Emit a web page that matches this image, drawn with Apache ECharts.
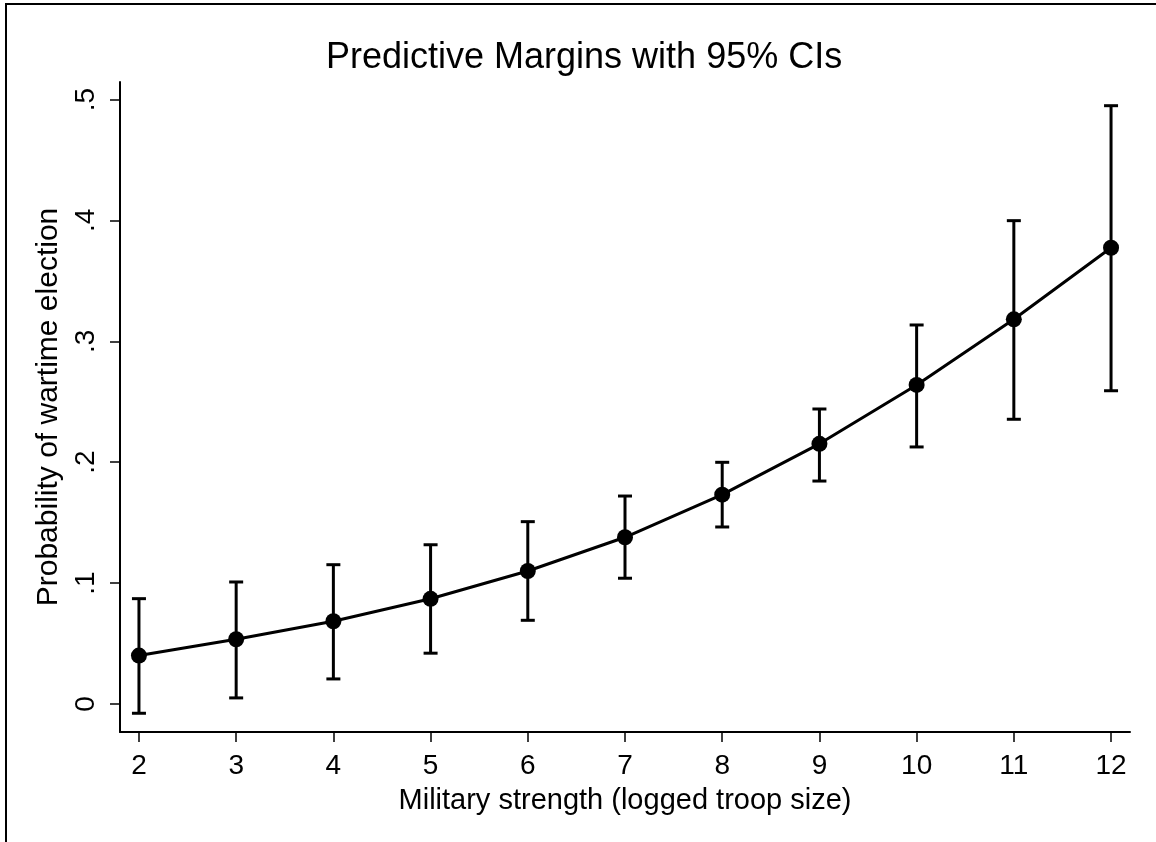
<!DOCTYPE html>
<html>
<head>
<meta charset="utf-8" />
<title>Predictive Margins</title>
<script src="https://cdn.jsdelivr.net/npm/echarts@6/dist/echarts.min.js"></script>
<style>
  html, body { margin: 0; padding: 0; background: #fff; }
  #chartmain { width: 1156px; height: 842px; }
</style>
</head>
<body>
<div id="chartmain"></div>
<script type="text/javascript">
  // troop size (logged) and the margins
  var troopSize = [2, 3, 4, 5, 6, 7, 8, 9, 10, 11, 12];
  var margin    = [0.040, 0.0535, 0.0684, 0.0870, 0.110, 0.1379, 0.1731, 0.2152, 0.2639, 0.3182, 0.3774];
  var ciLower   = [-0.0077, 0.0050, 0.0207, 0.0420, 0.0692, 0.1040, 0.1464, 0.1844, 0.2126, 0.2355, 0.2591];
  var ciUpper   = [0.0871, 0.1009, 0.1152, 0.1317, 0.1508, 0.1720, 0.1999, 0.2440, 0.3135, 0.3998, 0.4949];
  var yTicks    = [0, 0.1, 0.2, 0.3, 0.4, 0.5];
  var yTickText = ['0', '.1', '.2', '.3', '.4', '.5'];

  var font = 'Liberation Sans, Arial, sans-serif';

  var lineData = [];
  var barData = [];
  for (var i = 0; i < troopSize.length; i++) {
    lineData.push([troopSize[i], margin[i]]);
    barData.push([troopSize[i], ciLower[i], ciUpper[i]]);
  }

  // draws one CI bar with caps
  function renderCI(params, api) {
    var lo = api.coord([api.value(0), api.value(1)]);
    var hi = api.coord([api.value(0), api.value(2)]);
    var cap = 7;
    var st = { stroke: '#000', lineWidth: 3 };
    return {
      type: 'group',
      children: [
        { type: 'line', shape: { x1: lo[0], y1: lo[1], x2: hi[0], y2: hi[1] }, style: st },
        { type: 'line', shape: { x1: lo[0] - cap, y1: lo[1], x2: lo[0] + cap, y2: lo[1] }, style: st },
        { type: 'line', shape: { x1: hi[0] - cap, y1: hi[1], x2: hi[0] + cap, y2: hi[1] }, style: st }
      ]
    };
  }

  var myChart = echarts.init(document.getElementById('chartmain'));
  var option = {
    backgroundColor: '#fff',
    animation: false,
    title: {
      text: 'Predictive Margins with 95% CIs',
      left: 321,
      top: 35,
      textStyle: { fontFamily: font, fontSize: 36, fontWeight: 'normal', color: '#000' }
    },
    graphic: [
      {
        type: 'rect',
        shape: { x: 6, y: 4, width: 1300, height: 1000 },
        style: { fill: 'none', stroke: '#000', lineWidth: 2 },
        silent: true
      }
    ],
    grid: { left: 120, right: 26, top: 82, bottom: 110 },
    xAxis: {
      type: 'value',
      min: 1.805,
      max: 12.195,
      name: 'Military strength (logged troop size)',
      nameLocation: 'middle',
      nameGap: 54,
      nameTextStyle: { fontFamily: font, fontSize: 29, color: '#000' },
      axisLine: { show: true, onZero: false, lineStyle: { color: '#000', width: 2 } },
      axisTick: { show: true, length: 10, customValues: troopSize, lineStyle: { color: '#000', width: 1.5 } },
      axisLabel: { customValues: troopSize, margin: 20, fontFamily: font, fontSize: 28, color: '#000' },
      splitLine: { show: false }
    },
    yAxis: {
      type: 'value',
      min: -0.0232,
      max: 0.5145,
      name: 'Probability of wartime election',
      nameLocation: 'middle',
      nameGap: 52,
      nameTextStyle: { fontFamily: font, fontSize: 30, color: '#000' },
      axisLine: { show: true, onZero: false, lineStyle: { color: '#000', width: 2 } },
      axisTick: { show: true, length: 10, customValues: yTicks, lineStyle: { color: '#000', width: 1.5 } },
      axisLabel: {
        customValues: yTicks,
        rotate: 90,
        margin: 20,
        fontFamily: font,
        fontSize: 28,
        color: '#000',
        formatter: function (v) {
          var k = yTicks.indexOf(Math.round(v * 10) / 10);
          return k >= 0 ? yTickText[k] : '';
        }
      },
      splitLine: { show: false }
    },
    series: [
      {
        name: 'CI',
        type: 'custom',
        renderItem: renderCI,
        data: barData,
        z: 2
      },
      {
        name: 'margin',
        type: 'line',
        data: lineData,
        symbol: 'circle',
        symbolSize: 16,
        lineStyle: { color: '#000', width: 3 },
        itemStyle: { color: '#000' },
        z: 3
      }
    ]
  };
  myChart.setOption(option);
</script>
</body>
</html>
